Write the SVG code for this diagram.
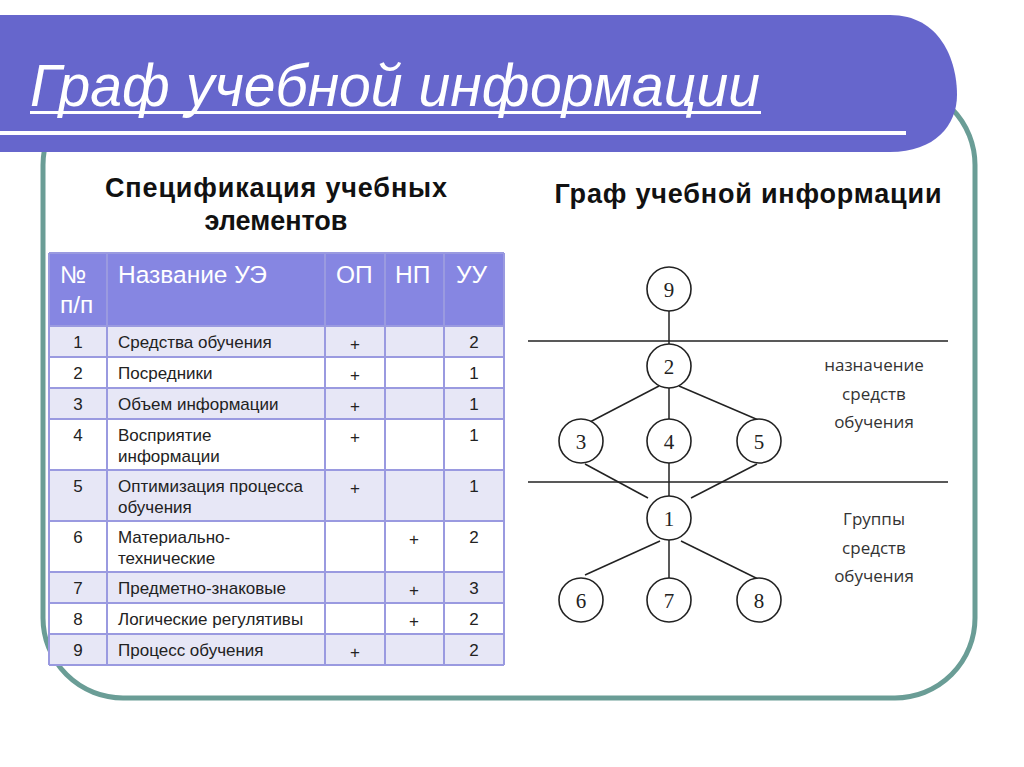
<svg xmlns="http://www.w3.org/2000/svg" width="1024" height="767" viewBox="0 0 1024 767">
<style>
.sub{font-family:"Liberation Sans",Arial,sans-serif;font-weight:bold;font-size:27px;fill:#111;text-anchor:middle}
.th{font-family:"Liberation Sans",Arial,sans-serif;font-size:24.5px;fill:#fff}
.td{font-family:"Liberation Sans",Arial,sans-serif;font-size:17px;fill:#222}
.c{text-anchor:middle}
.cell{stroke:#9a9ae0;stroke-width:2}
.node circle{fill:#fff;stroke:#222;stroke-width:1.6}
.node text{font-family:"Liberation Serif","Times New Roman",serif;font-size:21px;fill:#222;text-anchor:middle}
.edge{stroke:#222;stroke-width:1.5;fill:none}
.lbl{font-family:"Open Sans","Liberation Sans",sans-serif;font-size:17px;fill:#333;text-anchor:middle}
</style>
<rect x="0" y="0" width="1024" height="767" fill="#fff"/>
<rect x="43" y="85" width="932" height="613" rx="80" ry="80" fill="none" stroke="#6a9d96" stroke-width="5"/>
<path d="M0,15 H890 C940,15 957,60 957,95 C957,125 935,152 890,152 H0 Z" fill="#6666cc"/>
<text x="30" y="106" font-family="Liberation Sans Narrow,Liberation Sans,Arial,sans-serif" font-style="italic" font-size="60" fill="#fff" textLength="730" lengthAdjust="spacingAndGlyphs">Граф учебной информации</text>
<rect x="30" y="111" width="731" height="3" fill="#fff"/>
<rect x="0" y="131" width="906" height="4" fill="#fff"/>

<text class="sub" x="276" y="197" textLength="342" lengthAdjust="spacing">Спецификация учебных</text>
<text class="sub" x="276" y="230">элементов</text>
<text class="sub" x="748" y="203" textLength="387" lengthAdjust="spacing">Граф учебной информации</text>

<g id="table">
<rect x="49" y="253" width="455" height="73" fill="#8686e2"/>
<rect x="49" y="326" width="455" height="31" fill="#e7e7f6"/>
<rect x="49" y="388" width="455" height="31" fill="#e7e7f6"/>
<rect x="49" y="470" width="455" height="51" fill="#e7e7f6"/>
<rect x="49" y="572" width="455" height="31" fill="#e7e7f6"/>
<rect x="49" y="634" width="455" height="31" fill="#e7e7f6"/>
<g class="cell">
<line x1="49" y1="253" x2="504" y2="253"/>
<line x1="49" y1="326" x2="504" y2="326"/>
<line x1="49" y1="357" x2="504" y2="357"/>
<line x1="49" y1="388" x2="504" y2="388"/>
<line x1="49" y1="419" x2="504" y2="419"/>
<line x1="49" y1="470" x2="504" y2="470"/>
<line x1="49" y1="521" x2="504" y2="521"/>
<line x1="49" y1="572" x2="504" y2="572"/>
<line x1="49" y1="603" x2="504" y2="603"/>
<line x1="49" y1="634" x2="504" y2="634"/>
<line x1="49" y1="665" x2="504" y2="665"/>
<line x1="49" y1="253" x2="49" y2="665"/>
<line x1="107" y1="253" x2="107" y2="665"/>
<line x1="325" y1="253" x2="325" y2="665"/>
<line x1="385" y1="253" x2="385" y2="665"/>
<line x1="444" y1="253" x2="444" y2="665"/>
<line x1="504" y1="253" x2="504" y2="665"/>
</g>
<text class="th" x="60" y="283">№</text>
<text class="th" x="60" y="313">п/п</text>
<text class="th" x="118" y="283">Название УЭ</text>
<text class="th" x="336" y="283">ОП</text>
<text class="th" x="395" y="283">НП</text>
<text class="th" x="456" y="283">УУ</text>

<text class="td c" x="78" y="348">1</text><text class="td" x="118" y="348">Средства обучения</text><text class="td c" x="355" y="350">+</text><text class="td c" x="474" y="348">2</text>
<text class="td c" x="78" y="379">2</text><text class="td" x="118" y="379">Посредники</text><text class="td c" x="355" y="381">+</text><text class="td c" x="474" y="379">1</text>
<text class="td c" x="78" y="410">3</text><text class="td" x="118" y="410">Объем информации</text><text class="td c" x="355" y="412">+</text><text class="td c" x="474" y="410">1</text>
<text class="td c" x="78" y="441">4</text><text class="td" x="118" y="441">Восприятие</text><text class="td" x="118" y="462">информации</text><text class="td c" x="355" y="443">+</text><text class="td c" x="474" y="441">1</text>
<text class="td c" x="78" y="492">5</text><text class="td" x="118" y="492">Оптимизация процесса</text><text class="td" x="118" y="513">обучения</text><text class="td c" x="355" y="494">+</text><text class="td c" x="474" y="492">1</text>
<text class="td c" x="78" y="543">6</text><text class="td" x="118" y="543">Материально-</text><text class="td" x="118" y="564">технические</text><text class="td c" x="414" y="545">+</text><text class="td c" x="474" y="543">2</text>
<text class="td c" x="78" y="594">7</text><text class="td" x="118" y="594">Предметно-знаковые</text><text class="td c" x="414" y="596">+</text><text class="td c" x="474" y="594">3</text>
<text class="td c" x="78" y="625">8</text><text class="td" x="118" y="625">Логические регулятивы</text><text class="td c" x="414" y="627">+</text><text class="td c" x="474" y="625">2</text>
<text class="td c" x="78" y="656">9</text><text class="td" x="118" y="656">Процесс обучения</text><text class="td c" x="355" y="658">+</text><text class="td c" x="474" y="656">2</text>
</g>

<g id="dividers" class="edge">
<line x1="528" y1="341" x2="948" y2="341"/>
<line x1="528" y1="482" x2="948" y2="482"/>
</g>

<g id="connectors" class="edge">
<line x1="669" y1="311" x2="669" y2="344"/>
<line x1="659" y1="386" x2="588" y2="423"/>
<line x1="669" y1="388" x2="669" y2="419"/>
<line x1="679" y1="386" x2="763" y2="422"/>
<line x1="585" y1="464" x2="648" y2="498"/>
<line x1="669" y1="463" x2="669" y2="496"/>
<line x1="757" y1="464" x2="691" y2="498"/>
<line x1="660" y1="541" x2="585" y2="575"/>
<line x1="669" y1="540" x2="669" y2="578"/>
<line x1="681" y1="541" x2="758" y2="579"/>
</g>

<g id="n9" class="node"><circle cx="669" cy="289" r="22"/><text x="669" y="297">9</text></g>
<g id="n2" class="node"><circle cx="669" cy="366" r="22"/><text x="669" y="374">2</text></g>
<g id="n3" class="node"><circle cx="581" cy="441" r="22"/><text x="581" y="449">3</text></g>
<g id="n4" class="node"><circle cx="669" cy="441" r="22"/><text x="669" y="449">4</text></g>
<g id="n5" class="node"><circle cx="759" cy="441" r="22"/><text x="759" y="449">5</text></g>
<g id="n1" class="node"><circle cx="669" cy="518" r="22"/><text x="669" y="526">1</text></g>
<g id="n6" class="node"><circle cx="581" cy="600" r="22"/><text x="581" y="608">6</text></g>
<g id="n7" class="node"><circle cx="669" cy="600" r="22"/><text x="669" y="608">7</text></g>
<g id="n8" class="node"><circle cx="759" cy="600" r="22"/><text x="759" y="608">8</text></g>

<g id="labels">
<text class="lbl" x="874" y="371">назначение</text>
<text class="lbl" x="874" y="400">средств</text>
<text class="lbl" x="874" y="428">обучения</text>
<text class="lbl" x="874" y="525">Группы</text>
<text class="lbl" x="874" y="554">средств</text>
<text class="lbl" x="874" y="582">обучения</text>
</g>
</svg>
